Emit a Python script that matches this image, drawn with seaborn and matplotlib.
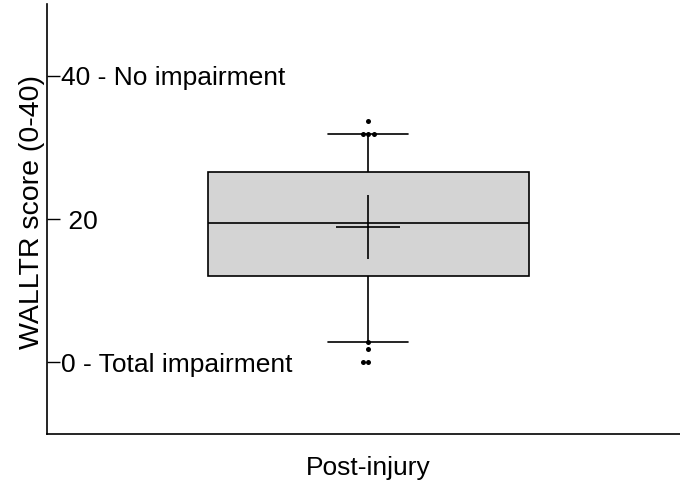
import matplotlib
matplotlib.use("Agg")
import matplotlib.pyplot as plt
import seaborn as sns
import pandas as pd

# ---- data ----
category = "Post-injury"
# five-number summary: lower whisker, Q1, median, Q3, upper whisker
box_summary = [2.9, 12.0, 19.4, 26.6, 31.9]
outliers = [33.7, 31.9, 31.9, 31.9, 2.9, 1.8, 0.0, 0.0]
mean_value = [18.85]
ytick_values = [0, 20, 40]
ytick_labels = ["0 - Total impairment", " 20", "40 - No impairment"]
ylabel = "WALLTR score (0-40)"

sns.set_style("ticks")
plt.rcParams["font.family"] = ["Liberation Sans", "DejaVu Sans"]

box_df = pd.DataFrame({"group": [category] * len(box_summary), "score": box_summary})
out_df = pd.DataFrame({"group": [category] * len(outliers), "score": outliers})
mean_df = pd.DataFrame({"group": [category], "score": mean_value})

fig = plt.figure(figsize=(6.8, 4.86), dpi=100)
ax = fig.add_axes([47 / 680, 52 / 486, 633 / 680, 430 / 486])

sns.boxplot(data=box_df, x="group", y="score", ax=ax, whis=(0, 100),
            width=1.0, color="#d4d4d4", linecolor="black", linewidth=1.2,
            showfliers=False, capwidths=0.25, saturation=1)
sns.swarmplot(data=out_df, x="group", y="score", ax=ax, color="black",
              size=3.6, zorder=5)
sns.pointplot(data=mean_df, x="group", y="score", ax=ax, color="black",
              marker="+", markersize=46, markeredgewidth=1.2,
              linestyle="none", errorbar=None)

ax.set_xlim(-1.0, 0.97)
ax.set_ylim(-10, 50)

ax.set_yticks(ytick_values)
ax.set_yticklabels(ytick_labels, fontsize=19)
for lab in ax.get_yticklabels():
    lab.set_horizontalalignment("left")
ax.tick_params(axis="y", direction="in", length=9.4, width=1.0, pad=-10,
               colors="black")
ax.tick_params(axis="x", length=0, pad=16, labelsize=19, colors="black")

ax.set_xlabel("")
ax.set_ylabel(ylabel, fontsize=20.5, color="black")
ax.yaxis.set_label_coords(-0.003, 0.516)

sns.despine(ax=ax)
for s in ["left", "bottom"]:
    ax.spines[s].set_color("black")
    ax.spines[s].set_linewidth(1.2)

fig.savefig("out.png", dpi=100)
